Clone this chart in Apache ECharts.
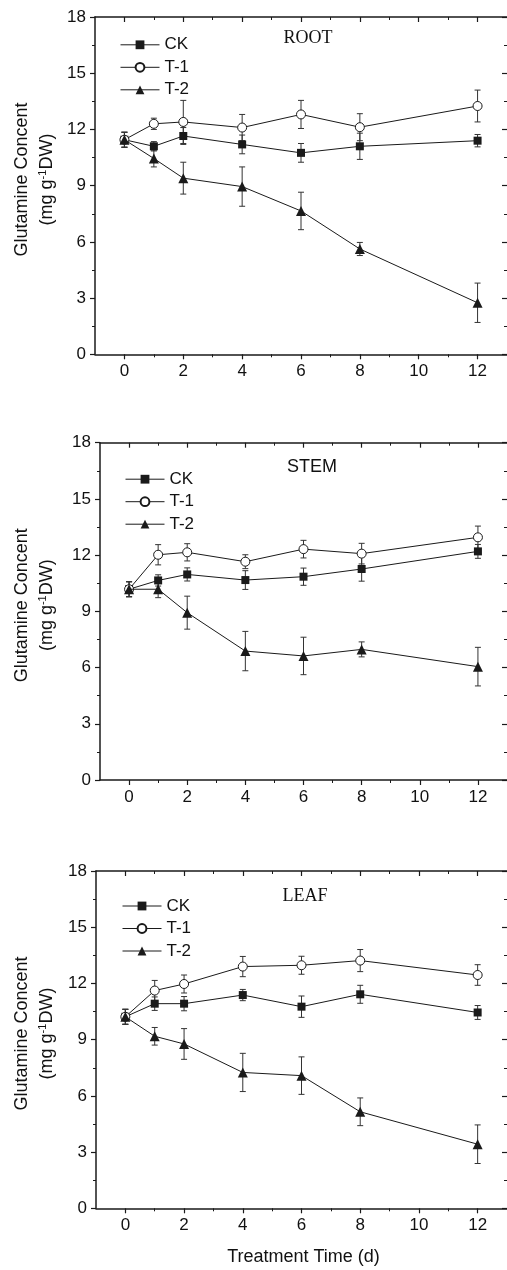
<!DOCTYPE html>
<html>
<head>
<meta charset="utf-8">
<script src="https://cdn.jsdelivr.net/npm/echarts@6/dist/echarts.min.js"></script>
<style>
html,body{margin:0;padding:0;background:#fff;}
#chart{width:507px;height:1270px;}
</style>
</head>
<body>
<div id="chart"></div>
<script>
// ---- data ----
const days = [0, 1, 2, 4, 6, 8, 12];
const seriesNames = ['CK', 'T-1', 'T-2'];
const panelTitles = ['ROOT', 'STEM', 'LEAF'];
const xTickValues = [0, 2, 4, 6, 8, 10, 12];
const xMinorTickValues = [1, 3, 5, 7, 9, 11];
const yAxisTitleLine1 = 'Glutamine Concent';
const xAxisTitle = 'Treatment Time (d)';

const rootCK = [11.45, 11.1, 11.65, 11.2, 10.75, 11.1, 11.4];
const rootCKErr = [0.4, 0.25, 0.45, 0.5, 0.5, 0.7, 0.33];
const rootT1 = [11.45, 12.3, 12.4, 12.1, 12.8, 12.12, 13.25];
const rootT1Err = [0.4, 0.3, 1.15, 0.7, 0.75, 0.72, 0.85];
const rootT2 = [11.45, 10.45, 9.4, 8.95, 7.65, 5.62, 2.75];
const rootT2Err = [0.4, 0.45, 0.85, 1.05, 1.0, 0.35, 1.05];

const stemCK = [10.18, 10.65, 10.97, 10.67, 10.85, 11.26, 12.2];
const stemCKErr = [0.4, 0.3, 0.35, 0.5, 0.46, 0.65, 0.37];
const stemT1 = [10.18, 12.02, 12.15, 11.65, 12.32, 12.08, 12.95];
const stemT1Err = [0.4, 0.54, 0.46, 0.37, 0.47, 0.55, 0.6];
const stemT2 = [10.18, 10.18, 8.93, 6.88, 6.62, 6.97, 6.05];
const stemT2Err = [0.4, 0.45, 0.88, 1.05, 1.0, 0.4, 1.03];

const leafCK = [10.22, 10.92, 10.92, 11.38, 10.76, 11.42, 10.45];
const leafCKErr = [0.4, 0.36, 0.38, 0.3, 0.57, 0.48, 0.37];
const leafT1 = [10.22, 11.62, 11.97, 12.9, 12.97, 13.22, 12.45];
const leafT1Err = [0.4, 0.54, 0.48, 0.54, 0.48, 0.59, 0.55];
const leafT2 = [10.22, 9.18, 8.77, 7.25, 7.08, 5.15, 3.42];
const leafT2Err = [0.4, 0.47, 0.82, 1.02, 1.0, 0.74, 1.03];

// ---- layout / style ----
const SANS = '"Liberation Sans", Arial, sans-serif';
const SERIF = '"Liberation Serif", "Times New Roman", serif';
const INK = '#1a1a1a';
const panels = [
  {vals: [rootCK, rootT1, rootT2], errs: [rootCKErr, rootT1Err, rootT2Err], left: 95, top: 17, titleX: 308, titleY: 38, titleFont: SERIF, legendLeft: 120, legendTop: 36.3},
  {vals: [stemCK, stemT1, stemT2], errs: [stemCKErr, stemT1Err, stemT2Err], left: 100, top: 442.7, titleX: 312, titleY: 467, titleFont: SANS, legendLeft: 125, legendTop: 470.7},
  {vals: [leafCK, leafT1, leafT2], errs: [leafCKErr, leafT1Err, leafT2Err], left: 96, top: 871, titleX: 305, titleY: 896, titleFont: SERIF, legendLeft: 122, legendTop: 897.5}
];
const GRID_W = 413.7, GRID_H = 337.3;

const symbolDefs = [
  {symbol: 'rect', size: 8, itemStyle: {color: INK, borderColor: INK, borderWidth: 0}},
  {symbol: 'circle', size: 9, itemStyle: {color: '#fff', borderColor: INK, borderWidth: 1}},
  {symbol: 'triangle', size: 10, itemStyle: {color: INK, borderColor: INK, borderWidth: 0}}
];

function renderErr(params, api) {
  const x = api.value(0), y = api.value(1), e = api.value(2);
  const t = api.coord([x, y + e]);
  const b = api.coord([x, y - e]);
  const hw = 3;
  const st = {stroke: '#333', lineWidth: 1};
  return {
    type: 'group',
    children: [
      {type: 'line', shape: {x1: t[0], y1: t[1], x2: b[0], y2: b[1]}, style: st},
      {type: 'line', shape: {x1: t[0] - hw, y1: t[1], x2: t[0] + hw, y2: t[1]}, style: st},
      {type: 'line', shape: {x1: b[0] - hw, y1: b[1], x2: b[0] + hw, y2: b[1]}, style: st}
    ]
  };
}

const grid = [], xAxis = [], yAxis = [], series = [], legend = [], graphic = [];
const axisLine = {show: true, onZero: false, lineStyle: {color: INK, width: 1.5}};
const noLine = {show: false, onZero: false};

panels.forEach((p, gi) => {
  grid.push({left: p.left, top: p.top, width: GRID_W, height: GRID_H});
  const base = xAxis.length;
  xAxis.push({gridIndex: gi, type: 'value', position: 'bottom', min: -1, max: 13,
    axisLine: axisLine, splitLine: {show: false},
    axisTick: {show: true, inside: false, length: 5, customValues: xTickValues, lineStyle: {color: INK, width: 1.2}},
    axisLabel: {show: true, customValues: xTickValues, margin: 9, color: '#111', fontSize: 17, fontFamily: SANS}
  });
  xAxis.push({gridIndex: gi, type: 'value', position: 'bottom', min: -1, max: 13,
    axisLine: noLine, splitLine: {show: false}, axisLabel: {show: false},
    axisTick: {show: true, inside: false, length: 3, customValues: xMinorTickValues, lineStyle: {color: INK, width: 1}}
  });
  xAxis.push({gridIndex: gi, type: 'value', position: 'top', min: -1, max: 13,
    axisLine: axisLine, splitLine: {show: false}, axisLabel: {show: false},
    axisTick: {show: true, inside: true, length: 5, customValues: xTickValues, lineStyle: {color: INK, width: 1.2}}
  });
  xAxis.push({gridIndex: gi, type: 'value', position: 'top', min: -1, max: 13,
    axisLine: noLine, splitLine: {show: false}, axisLabel: {show: false},
    axisTick: {show: true, inside: true, length: 3, customValues: xMinorTickValues, lineStyle: {color: INK, width: 1}}
  });
  const ybase = yAxis.length;
  yAxis.push({gridIndex: gi, type: 'value', position: 'left', min: 0, max: 18, interval: 3,
    axisLine: axisLine, splitLine: {show: false},
    axisTick: {show: true, inside: false, length: 5, lineStyle: {color: INK, width: 1.2}},
    minorTick: {show: true, splitNumber: 2, length: 3, lineStyle: {color: INK, width: 1}},
    axisLabel: {show: true, margin: 9, color: '#111', fontSize: 17, fontFamily: SANS}
  });
  yAxis.push({gridIndex: gi, type: 'value', position: 'right', min: 0, max: 18, interval: 3,
    axisLine: noLine, splitLine: {show: false},
    axisTick: {show: true, inside: true, length: 5, lineStyle: {color: INK, width: 1.2}},
    minorTick: {show: true, splitNumber: 2, length: 3, lineStyle: {color: INK, width: 1}},
    axisLabel: {show: false}
  });

  p.vals.forEach((vals, si) => {
    series.push({
      type: 'custom', name: seriesNames[si] + ' err', xAxisIndex: base, yAxisIndex: ybase,
      data: days.map((d, i) => [d, vals[i], p.errs[si][i]]),
      encode: {x: 0, y: 1}, renderItem: renderErr, z: 1, silent: true
    });
  });
  [2, 0, 1].forEach(si => {
    const sd = symbolDefs[si];
    series.push({
      type: 'line', name: seriesNames[si], xAxisIndex: base, yAxisIndex: ybase,
      data: days.map((d, i) => [d, p.vals[si][i]]),
      symbol: sd.symbol, symbolSize: sd.size, showAllSymbol: true,
      lineStyle: {color: INK, width: 1}, itemStyle: sd.itemStyle,
      z: 3 + si, emphasis: {disabled: true}
    });
  });

  legend.push({
    data: seriesNames, orient: 'vertical', left: p.legendLeft, top: p.legendTop, padding: 0,
    itemWidth: 39, itemHeight: 11, itemGap: 5.5, selectedMode: false,
    lineStyle: {width: 1},
    textStyle: {fontSize: 17, fontFamily: SANS, color: '#111', lineHeight: 11}
  });

  graphic.push({type: 'text', x: p.titleX, y: p.titleY, silent: true,
    style: {text: panelTitles[gi], font: '18px ' + p.titleFont, fill: '#111', align: 'center', verticalAlign: 'middle'}});
  const cy = p.top + 162.5;
  graphic.push({type: 'text', x: 22, y: cy, rotation: Math.PI / 2, silent: true,
    style: {text: yAxisTitleLine1, font: '18px ' + SANS, fill: '#111', align: 'center', verticalAlign: 'middle'}});
  graphic.push({type: 'text', x: 47.5, y: cy, rotation: Math.PI / 2, silent: true,
    style: {text: '{a|(mg g}{s|-1}{a|DW)}', fill: '#111', align: 'center', verticalAlign: 'middle',
      rich: {a: {fontSize: 18, fontFamily: SANS, fill: '#111', lineHeight: 20}, s: {fontSize: 11, fontFamily: SANS, fill: '#111', verticalAlign: 'top', lineHeight: 11}}}});
});

graphic.push({type: 'text', x: 303.5, y: 1257, silent: true,
  style: {text: xAxisTitle, font: '18px ' + SANS, fill: '#111', align: 'center', verticalAlign: 'middle'}});

const chart = echarts.init(document.getElementById('chart'), null, {renderer: 'canvas'});
chart.setOption({
  animation: false,
  backgroundColor: '#fff',
  grid, xAxis, yAxis, series, legend, graphic
});
</script>
</body>
</html>
